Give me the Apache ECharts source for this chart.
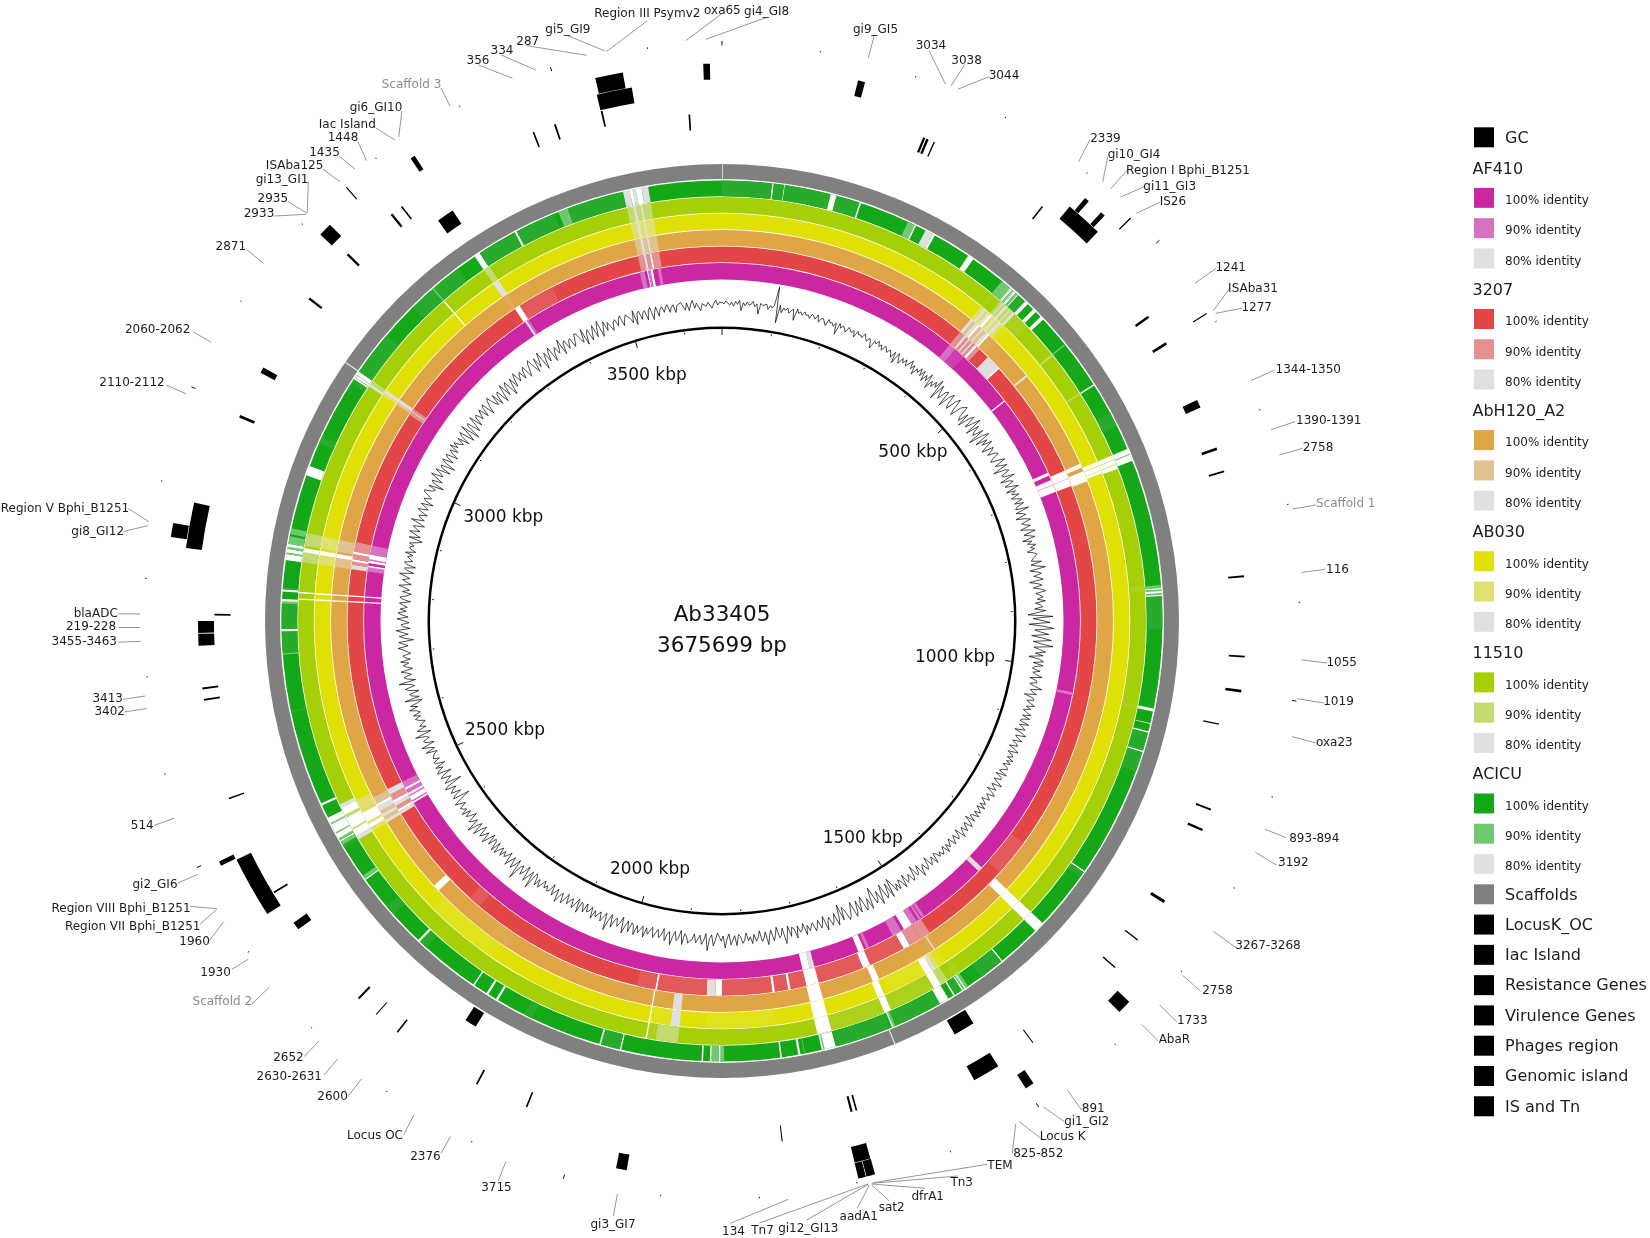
<!DOCTYPE html>
<html><head><meta charset="utf-8">
<style>html,body{margin:0;padding:0;background:#fff}#c{width:1650px;height:1238px}</style>
<script src="https://cdn.jsdelivr.net/npm/echarts@6/dist/echarts.min.js"></script></head>
<body><div id="c"></div>
<script>
const genomeLength = 3675699;
const majorTicksKb = [0,500,1000,1500,2000,2500,3000,3500];
const minorTicksKb = [100,200,300,400,600,700,800,900,1100,1200,1300,1400,1600,1700,1800,1900,2100,2200,2300,2400,2600,2700,2800,2900,3100,3200,3300,3400,3600];
const scaffoldBreaksKb = [[0,1],[1610,1611.6],[3108,3109.6]];

// ring rows: [startKb, endKb, level]  level 0 gap, 1 slightly paler, 2 90%, 3 80%, 4 back to 100%
const ringACICU = [[0,68,1],[67,69,0],[69,83,1],[83,84,0],[84,146,1],[146,154,0],[154,186,1],[186,188,0],[255,265,2],[265,267,0],[281,292,3],[292,295,0],[347,355,0],[403,417,2],[417,419,3],[419,421,0],[421,423,2],[423,425,3],[425,427,0],[427,430,2],[430,432,3],[432,444,1],[444,449,0],[459,464,0],[473,478,0],[521,523,2],[553,555,1],[587,589,0],[630,650,1],[684,701,0],[691,692.5,2],[871,875,2],[875,877,0],[877,879,2],[879,882,0],[882,884,2],[884,886,0],[886,930,1],[1036,1040,0],[1056,1057,0],[1067,1069,0],[1070,1094,1],[1094,1096,0],[1096,1123,1],[1272,1274,0],[1274,1282,1],[1361,1375,0],[1434,1436,0],[1436,1470,1],[1491,1495,2],[1495,1497,0],[1497,1499,2],[1499,1501,0],[1501,1512,1],[1512,1514,0],[1522,1535,0],[1535,1601,1],[1601,1604,2],[1604,1606,0],[1608,1683,1],[1685,1704,0],[1700,1702,2],[1727,1728,2],[1733,1736,0],[1758,1760,0],[1835,1840,2],[1840,1842,0],[1842,1852,2],[1852,1854,0],[1863,1865,0],[1973,1975,0],[1975,2001,1],[2001,2003,0],[2098,2110,1],[2150,2153,0],[2165,2168,0],[2187,2189,0],[2268,2280,1],[2280,2283,0],[2330,2345,1],[2389,2391,0],[2391,2396,2],[2440,2445,1],[2445,2450,2],[2450,2452,0],[2452,2455,2],[2455,2486,0],[2462,2464,2],[2476,2478,2],[2504,2507,0],[2634,2636,1],[2712,2714,2],[2714,2743,1],[2743,2746,0],[2746,2780,1],[2780,2783,2],[2783,2786,0],[2796,2799,0],[2799,2802,1],[2838,2846,0],[2846,2848,2],[2848,2853,0],[2853,2856,2],[2856,2860,0],[2860,2870,2],[2873,2881,2],[2954,2967,0],[3000,3010,1],[3090,3097,1],[3097,3109,0],[3099,3100,2],[3103,3104,2],[3109,3170,1],[3220,3300,1],[3256,3258,2],[3327,3335,0],[3335,3389,1],[3389,3392,0],[3392,3447,1],[3453,3466,2],[3466,3543,1],[3543,3552,3],[3552,3556,0],[3556,3560,3],[3560,3568,0],[3568,3577,3]];
const ring11510 = [[403,408,1],[419,423,2],[423,425,3],[425,428,2],[428,432,3],[432,436,2],[436,438,3],[438,442,2],[442,446,3],[446,470,1],[521,524,2],[587,589,2],[684,704,0],[690,691,2],[697,698,2],[871,878,1],[1036,1040,1],[1361,1375,0],[1490,1500,1],[1510,1516,2],[1516,1521,2],[1521,1532,0],[1532,1598,1],[1598,1608,0],[1608,1685,1],[1685,1705,0],[1899,1942,1],[1899,1930,2],[1942,1944,0],[2265,2267,1],[2440,2446,3],[2446,2456,0],[2456,2458,2],[2458,2475,0],[2475,2479,2],[2479,2490,0],[2490,2495,3],[2786,2788,0],[2795,2797,0],[2838,2852,2],[2852,2858,0],[2861,2879,2],[3100,3104,3],[3104,3109,2],[3256,3258,0],[3327,3336,2],[3543,3552,2],[3552,3556,3],[3556,3562,2],[3562,3565,3],[3565,3577,2]];
const ringAB030 = [[403,408,2],[408,412,3],[412,416,2],[416,420,3],[420,424,0],[424,428,2],[428,432,3],[432,436,2],[436,441,3],[441,445,2],[445,452,1],[521,524,1],[684,690,0],[690,691,2],[691,702,0],[697,698,2],[1361,1375,0],[1500,1510,1],[1510,1516,2],[1516,1522,3],[1522,1532,0],[1532,1590,1],[1598,1608,0],[1685,1705,0],[1760,1860,1],[1899,1912,3],[1912,1942,1],[1942,1944,0],[2190,2300,1],[2440,2446,2],[2446,2452,0],[2452,2455,2],[2455,2470,0],[2470,2473,2],[2473,2490,2],[2786,2788,0],[2795,2797,0],[2838,2852,2],[2852,2858,0],[2861,2879,2],[3100,3104,2],[3104,3109,3],[3256,3258,0],[3327,3336,3],[3543,3552,2],[3552,3556,3],[3556,3562,2],[3562,3565,3],[3565,3577,2]];
const ringAbH120 = [[403,408,3],[408,412,2],[412,417,3],[417,420,0],[420,425,2],[425,428,3],[428,433,2],[433,437,3],[437,440,0],[440,455,1],[521,524,3],[677,683,0],[689,705,0],[1361,1375,0],[1495,1510,1],[1501,1503,3],[1596,1606,0],[1685,1705,0],[1899,1912,3],[1942,1944,0],[2180,2210,1],[2312,2322,0],[2440,2445,3],[2445,2450,2],[2450,2455,3],[2455,2460,2],[2460,2468,3],[2468,2472,0],[2472,2483,2],[2786,2788,0],[2795,2797,0],[2838,2852,2],[2852,2858,0],[2861,2879,2],[3100,3104,2],[3104,3109,3],[3327,3336,1],[3543,3552,2],[3552,3556,3],[3556,3562,2],[3562,3565,3],[3565,3577,2]];
const ring3207 = [[403,412,2],[412,416,3],[416,420,2],[420,423,3],[423,427,2],[427,430,3],[430,434,2],[434,438,0],[438,444,2],[462,464,0],[464,484,3],[484,487,0],[677,703,0],[690,691,2],[1290,1350,1],[1494,1511,2],[1511,1531,2],[1531,1542,0],[1542,1600,1],[1600,1612,0],[1612,1685,1],[1685,1705,0],[1705,1730,1],[1730,1734,0],[1734,1755,1],[1755,1759,0],[1759,1838,1],[1838,1848,0],[1848,1862,3],[1862,1940,1],[1940,1943,0],[1943,1972,1],[2250,2270,1],[2440,2445,3],[2445,2449,0],[2449,2455,2],[2455,2460,3],[2460,2465,0],[2465,2475,2],[2475,2484,3],[2786,2788,0],[2795,2797,0],[2838,2845,3],[2845,2850,2],[2850,2854,0],[2854,2862,2],[2862,2866,0],[2866,2881,2],[3098,3103,2],[3103,3105,3],[3105,3109,2],[3333,3342,0],[3342,3400,1],[3543,3552,2],[3552,3556,3],[3556,3562,2],[3562,3565,0],[3565,3577,2]];
const ringAF410 = [[403,411,2],[411,415,2],[415,434,1],[531,533,0],[669,674,0],[682,703,0],[690,691,2],[1036,1041,2],[1363,1371,3],[1486,1491,2],[1493,1497,2],[1501,1511,2],[1511,1526,0],[1531,1547,2],[1590,1595,2],[1599,1609,0],[1685,1693,3],[1693,1705,0],[2445,2448,0],[2448,2450,2],[2450,2458,0],[2458,2460,2],[2460,2464,0],[2464,2470,2],[2470,2474,0],[2474,2484,2],[2786,2788,0],[2795,2797,0],[2838,2845,2],[2845,2848,0],[2848,2852,4],[2852,2856,0],[2856,2858,2],[2858,2866,0],[2866,2881,2],[3334,3342,2],[3336,3338,0],[3540,3548,2],[3548,3552,4],[3552,3554,0],[3554,3558,2],[3558,3562,0],[3562,3570,4],[3570,3575,2]];

const ringNames = ['ACICU','11510','AB030','AbH120_A2','3207','AF410'];
const ringRows = [ringACICU,ring11510,ringAB030,ringAbH120,ring3207,ringAF410];
const ringRadii = [[424.8,440.5],[408.3,424],[391.8,407.5],[375.3,391],[358.8,374.5],[341.5,358]];
const ringColors = [
 ['#14A818','#28AA2C','#70C870','#E0E0E0'],
 ['#A5D008','#ABD11D','#C2DA70','#E0E0E0'],
 ['#E0E005','#E0E21C','#E0E070','#E0E0E0'],
 ['#E0A545','#E0AA52','#E0C191','#E0E0E0'],
 ['#E24646','#E25A5A','#E29090','#E0E0E0'],
 ['#CC27A3','#D03DAE','#D572C4','#E0E0E0']];

// feature tracks, [startKb,endKb]
const locusBands = [[1511,1538],[2157,2172]];
const iacBands = [[3315,3336]];
const resistanceBands = [[3637,3639],[1038,1039.5],[1680,1682],[1685.5,1688],[2763,2765]];
const virulenceBands = [[230.5,233.2],[234.5,237.2],[243.3,244.8],[384,385.8],[555.2,557.8],[590.7,593.7],[664.2,673.4],[721.4,724.4],[748.4,750.4],[867.9,869.9],[957.8,959.8],[996,999],[1133.4,1135.4],[1157.6,1160.2],[1248,1251.5],[1301,1302.6],[1340.8,1342.4],[1465.6,1466.8],[1513,1544],[1769.9,1771.1],[2060.6,2062.4],[2121.7,2123.7],[2228,2229.8],[2259.1,2260.1],[2285,2287.2],[2388.7,2397.9],[2437.2,2439.2],[2553.8,2555.4],[2667.4,2669.4],[2680.2,2682.2],[2729.2,2742.5],[2743.5,2756.8],[2990,2993.2],[3045.5,3052.1],[3143.5,3146.1],[3208.8,3211.4],[3275.2,3277.8],[3289.9,3291.7],[3459.4,3461.2],[3484.8,3486.8],[3539,3541]];
const phageBands = [[3539,3577.7],[408.4,449.3],[2421.9,2489.3],[2836,2886]];
const islandBands = [[3656,3663],[3541.5,3571],[144.3,151.8],[415,420.1],[437.5,442.6],[1358.7,1373.6],[1491,1500.6],[1680.3,1697.3],[1938.4,1949.7],[2490.8,2495.9],[2845.3,2860.2],[3205,3219.4],[3329,3334.1]];
const isBands = [[463,464.2],[587.5,588.7],[1680,1689],[1689.6,1697.5],[3257.6,3258.8]];
const trackRadii = [[458.5,474.5],[475,491],[491.5,507.5],[508,524],[525,541],[541.5,557.5],[558,574]];

// GC plot: deviation from the ring centre (px-like units), one row per 100 kbp
const gcStepKb = 100/28;
const gcDeviation = [
[1,-1,2,0,-2,1,-3,2,-1,3,-7,1,-2,2,-1,0,3,-2,1,-9,2,0,-1,2,-3,1,-1,2],
[21,-15,3,-4,1,-1,2,-3,0,2,-9,3,-1,1,-2,2,-1,0,-3,2,1,-2,3,-4,0,1,-2,-5],
[2,-1,0,-3,1,-10,2,-2,1,-1,-4,2,0,-2,1,-5,2,-1,0,-2,3,-1,-3,1,-2,-8,1,-1],
[3,-2,1,-4,2,0,-3,1,-1,-5,2,-9,3,-2,-6,1,-3,2,-4,0,5,-3,2,-7,1,-2,4,-3],
[4,-6,2,-3,6,-9,1,-4,3,-2,8,-13,5,-3,-8,2,4,-12,1,6,-5,-9,3,7,-4,-10,2,5],
[7,-4,-8,3,-11,2,6,-7,1,9,-10,4,-3,-6,5,-13,2,8,-9,3,-4,6,-2,-8,4,1,-5,3],
[5,-3,-6,2,8,-4,1,7,-9,3,6,-3,-1,9,-7,2,5,-5,1,8,-6,3,-2,5,-4,1,6,-3],
[6,-2,-4,9,-5,1,4,-7,2,7,-3,0,5,-6,2,8,-4,1,6,-7,2,-3,5,-1,3,-5,1,4],
[5,-1,-3,7,-4,2,10,-6,1,5,-3,2,6,-8,0,4,-5,3,7,-3,1,4,-2,6,-4,1,3,-5],
[6,-3,-12,13,-7,2,10,-11,4,14,-5,1,9,-8,3,12,-6,2,14,-5,1,7,-3,5,-9,2,6,-4],
[6,-2,-4,4,-3,1,7,-5,2,3,-4,1,9,-2,0,5,-7,2,4,-3,1,6,-2,3,-4,0,5,-3],
[5,-2,-4,6,-3,1,4,-6,2,7,-3,0,5,-4,1,3,-5,2,6,-4,1,3,-2,5,-1,4,-3,2],
[4,-1,-3,6,-5,2,3,-4,1,7,-3,0,4,-5,2,6,-2,1,4,-4,0,3,-2,5,-3,1,4,-2],
[5,-1,-3,4,-6,2,6,-3,0,5,-2,1,7,-5,2,4,-3,1,5,-4,0,3,-2,6,-3,1,4,-1],
[3,-2,-4,6,-3,1,4,-7,2,5,-3,0,8,-6,1,3,-9,2,5,-4,1,3,-7,6,-2,-5,4,-3],
[4,-6,-12,7,-9,2,5,-11,-3,8,-7,1,4,-14,-6,7,-5,2,6,-10,-4,5,-8,3,7,-9,-2,4],
[7,-3,-8,5,-12,1,8,-5,2,6,-3,0,9,-6,1,5,-4,2,6,-3,0,4,-2,7,-5,1,3,-4],
[8,-2,-4,5,-6,3,11,-5,2,4,-7,1,6,-5,0,9,-4,2,5,-6,1,4,-3,6,-1,3,-5,2],
[5,-2,-4,7,-3,1,6,-5,0,9,-3,2,4,-6,1,7,-4,0,12,-5,2,6,-3,1,5,-4,2,3],
[6,-1,-3,8,-6,2,5,-4,1,10,-3,0,7,-5,2,5,-3,1,6,-4,0,4,-2,8,-3,1,5,-2],
[8,-1,-3,7,-4,2,10,-6,1,5,-3,0,8,-5,2,13,-4,1,6,-3,0,4,-2,7,-4,1,3,-5],
[5,-2,-4,8,-6,1,6,-3,0,5,-5,2,7,-3,1,9,-4,0,5,-6,2,4,-1,3,-4,1,6,-2],
[6,-3,-5,13,-4,2,9,-6,1,6,-3,0,15,-5,2,7,-4,1,8,-5,0,3,-2,5,-3,1,7,-4],
[7,-2,-4,5,-6,1,8,-3,2,6,-5,0,9,-4,1,11,-3,2,5,-6,0,4,-3,6,-1,2,4,-4],
[-4,6,-2,-13,4,1,-7,3,0,-5,6,2,-14,3,-1,-6,4,1,-9,5,2,-3,4,-7,1,3,-4,2],
[2,-1,-5,6,-4,1,8,-6,2,4,-3,0,10,-7,1,6,-4,2,3,-5,1,4,-2,5,-3,0,7,-2],
[5,-3,-8,9,-6,1,3,-7,2,6,-4,0,11,-6,2,5,-3,1,7,-5,0,4,-2,6,-4,1,3,-5],
[-4,2,7,-3,1,6,-9,0,5,-4,2,8,-6,1,3,-5,0,7,-4,2,6,-2,4,-3,1,5,-6,2],
[5,-2,-6,3,-4,1,7,-5,0,4,-3,2,8,-6,1,4,-7,2,5,-3,0,3,-2,6,-4,1,3,-1],
[4,-3,-8,6,-5,1,7,-3,2,5,-6,0,9,-4,1,3,-5,2,6,-4,0,5,-7,2,4,-3,1,6],
[7,-1,-3,5,-10,2,4,-6,1,8,-4,0,6,-9,2,3,-11,1,5,-6,2,4,-8,0,3,-5,6,-2],
[4,-2,-5,3,-9,1,5,-11,-4,7,-13,2,4,-10,-3,6,-8,1,3,-5,0,4,-7,2,5,-9,-2,3],
[6,-3,-7,4,-9,1,3,-11,-2,6,-8,2,5,-12,-4,4,-7,1,6,-5,0,3,-6,2,5,-8,-3,4],
[7,-2,-9,5,-6,1,8,-12,-3,4,-7,2,6,-10,-1,3,-5,0,8,-9,2,4,-6,1,3,-7,-2,5],
[4,-3,-7,6,-11,0,3,-9,-2,5,-8,1,7,-10,-3,4,-6,2,3,-8,0,2,-5,1,4,-7,-1,3],
[4,-2,-7,5,-10,1,3,-6,0,2,-8,1,4,-9,-2,3,-7,0,2,-4,1,3,-5,0,2,-6,1,2],
[3,-1,-5,2,-6,0,4,-4,1,2,-7,0,1,-3,1,2,-5,0,3,-2,1]
];

const tickLabelTexts = ['500 kbp','1000 kbp','1500 kbp','2000 kbp','2500 kbp','3000 kbp','3500 kbp'];
const tickLabelX = [913,955,862.7,650,505,503.3,646.7];
const tickLabelY = [453,657.7,838.7,870,731,518,375.3];

// [text, grey?, textX, textY, leaderX1, leaderY1, leaderX2, leaderY2]
const outerLabels = [
['Scaffold 3',1,411.5,83,441,88,450,106],['gi6_GI10',0,376,106,402,110.7,398.7,137],['Iac Island',0,347.3,123,376,128,395,140],
['1448',0,343,136,358,141.7,366.5,160.7],['1435',0,324.5,151,339,156,355,169],['ISAba125',0,294.6,164.3,322.8,169,340,181.7],
['gi13_GI1',0,282,178.3,308.3,181.7,307.3,212.7],['2935',0,272.8,197.7,288,201.7,307,213.3],['2933',0,259,212.3,274.5,216,305.8,214.3],
['2871',0,230.8,245.7,246.4,249.3,263.4,263.3],['2060-2062',0,157.6,328.3,192.9,331.7,211.2,342.3],['2110-2112',0,132,381.7,166,385,186,393.7],
['356',0,478,59.3,478.6,65,512.5,78.3],['334',0,502,49.3,501.3,55,535.7,70],['287',0,527.7,40,526.8,45.7,586.6,55.3],
['gi5_GI9',0,567.9,28.3,567.9,35.7,605,51],['Region III Psymv2',0,647.3,12.7,647.3,20.7,606.3,51.7],['oxa65',0,722.4,9,721.5,14,685.8,40.7],
['gi4_GI8',0,766.6,10,767,17.3,705.9,39.3],['gi9_GI5',0,875.5,28.3,874.2,35.7,868.4,57.7],['3034',0,930.9,44.7,929,50.7,945.6,84.3],
['3038',0,966.6,59,964.4,65,951,86],['3044',0,1004,74.7,989,76.7,957.7,89.3],['2339',0,1105.4,137.3,1089.8,140,1078.7,161.7],
['gi10_GI4',0,1134,153.3,1107.7,156.7,1102.8,181.7],['Region I Bphi_B1251',0,1188,169.7,1127.3,170,1110.8,188.7],['gi11_GI3',0,1169.7,185,1144.3,186.7,1120.6,197],
['IS26',0,1172.9,200.3,1160,202.3,1136.3,213.3],['1241',0,1230.7,266.7,1216,268.3,1195,283.3],['ISAba31',0,1253,287.7,1229,289.3,1213.3,310.7],
['1277',0,1256.7,306.3,1241.7,308.3,1215.7,313.3],['1344-1350',0,1308.3,368.3,1274.3,370,1251,380.7],['1390-1391',0,1328.7,419.3,1295,421.7,1271,429.7],
['2758',0,1318,446,1302.7,448.3,1279.3,455],['Scaffold 1',1,1345.7,502.7,1316,505,1292.7,509],['116',0,1337.5,568.2,1324.8,569.3,1301.7,572.5],
['1055',0,1341.7,660.8,1327,663,1301.7,659.8],['1019',0,1338.5,699.8,1323.8,703,1297.5,698.7],['oxa23',0,1334.3,740.8,1315.4,742.9,1292.2,736.6],
['893-894',0,1314.3,837.6,1286,837.6,1264.9,829.2],['3192',0,1293.3,860.8,1276.4,865,1255.4,852.4],['3267-3268',0,1268,943.9,1236.5,948,1213.3,931.3],
['2758',0,1217.5,989,1200.7,991.3,1182.8,975.5],['1733',0,1192.3,1019.7,1176.5,1021.8,1159.6,1004.9],['AbaR',0,1174.4,1038.6,1158.3,1041,1141.7,1024.3],
['891',0,1093.3,1107.3,1081.7,1110,1067.3,1090],['gi1_GI2',0,1086.7,1120.7,1064.3,1121.7,1043.3,1106.7],['Locus K',0,1062.7,1135.7,1040.7,1138.3,1019.3,1121.7],
['825-852',0,1038.3,1152,1012.3,1153.3,1015.7,1124],['TEM',0,1000,1164,987.3,1164.3,873.3,1182.7],['Tn3',0,961.7,1181.7,958.3,1176,871.7,1183.3],
['dfrA1',0,927.7,1195.3,925,1188.3,871.7,1184],['sat2',0,891.7,1206.7,889,1200.7,871.7,1185],['aadA1',0,858.7,1215.7,857.3,1208.3,869.3,1185],
['gi12_GI13',0,808.3,1227,806.7,1220,868.3,1184.3],['Tn7',0,762.5,1229,759.4,1223,868,1184],['134',0,733.5,1230,730.4,1223.3,788.4,1199.3],
['gi3_GI7',0,613,1223.3,613.4,1216,617.4,1194],['3715',0,496.4,1186.7,498.2,1181,505.8,1161.7],['2376',0,425.4,1155.7,441,1153.3,450.4,1136.7],
['Locus OC',0,375,1134,403.6,1135,413.8,1115],['2600',0,332.6,1095.7,347.8,1096.7,361.6,1078.7],['2630-2631',0,289.3,1075,324.1,1075,337.5,1059],
['2652',0,288.4,1056.7,304,1056.7,318.8,1041.3],['Scaffold 2',1,222.3,1000.7,251.8,1004,269.2,987.3],['1930',0,215.6,971.7,231.7,969.3,248.2,959.3],
['1960',0,194.6,940,208.9,941,223.7,921.7],['Region VII Bphi_B1251',0,132.7,925,200,924.3,216.7,909.3],['Region VIII Bphi_B1251',0,121,906.8,190,906.4,216.7,908.6],
['gi2_GI6',0,155,883.6,177.7,883.2,197.7,874.3],['514',0,142.3,824.6,154,825.4,174.3,818.2],['3402',0,109.7,710.4,125,711.8,146.7,708.6],
['3413',0,107.7,697.5,123.3,699.3,145,696],['3455-3463',0,84.3,640.7,118.3,642.1,140.7,641.4],['219-228',0,91,625.7,118.3,627.5,140,627.5],
['blaADC',0,95.7,612.1,118.3,613.9,140,613.9],['gi8_GI12',0,97.7,530.4,124,531.4,147.7,525.7],['Region V Bphi_B1251',0,65,507.5,128.3,508.6,149,521.8]
];

// legend: [text, swatch colour or '' for a heading]
const legendRows = [['GC','#000000'],['AF410',''],['100% identity','#CC27A3'],['90% identity','#D572C4'],['80% identity','#E0E0E0'],
['3207',''],['100% identity','#E24646'],['90% identity','#E29090'],['80% identity','#E0E0E0'],
['AbH120_A2',''],['100% identity','#E0A545'],['90% identity','#E0C191'],['80% identity','#E0E0E0'],
['AB030',''],['100% identity','#E0E005'],['90% identity','#E0E070'],['80% identity','#E0E0E0'],
['11510',''],['100% identity','#A5D008'],['90% identity','#C2DA70'],['80% identity','#E0E0E0'],
['ACICU',''],['100% identity','#14A818'],['90% identity','#70C870'],['80% identity','#E0E0E0'],
['Scaffolds','#808080'],['LocusK_OC','#000000'],['Iac Island','#000000'],['Resistance Genes','#000000'],['Virulence Genes','#000000'],['Phages region','#000000'],['Genomic island','#000000'],['IS and Tn','#000000']];

const FONT = '"DejaVu Sans", sans-serif';
const KB = 1000;

function sectorItem(params, api, start, end, r0, r1, fill){
  const c = params.coordSys;
  const a = api.coord([r1, start]), b = api.coord([r1, end]);
  const p0 = api.coord([r0, start]);
  let a0 = Math.atan2(a[1]-c.cy, a[0]-c.cx), a1 = Math.atan2(b[1]-c.cy, b[0]-c.cx);
  while (a1 <= a0 + 1e-9) a1 += Math.PI*2;
  return {type:'sector', shape:{cx:c.cx, cy:c.cy,
     r: Math.hypot(a[0]-c.cx,a[1]-c.cy), r0: Math.hypot(p0[0]-c.cx,p0[1]-c.cy),
     startAngle:a0, endAngle:a1, clockwise:true}, style:{fill:fill}, silent:true};
}
function bandSeries(name, rows, r0, r1, color){
  return {name:name, type:'custom', coordinateSystem:'polar', silent:true, animation:false,
    data: rows.map(function(d){return [d[0]*KB, d[1]*KB];}),
    renderItem:function(params, api){ return sectorItem(params, api, api.value(0), api.value(1), r0, r1, color); }};
}
function ringSeries(i){
  const cols = ringColors[i], rr = ringRadii[i];
  const fills = ['#FFFFFF',cols[1],cols[2],cols[3],cols[0]];
  const rows = ringRows[i];
  return [bandSeries(ringNames[i]+' base',[[0,genomeLength/KB]],rr[0],rr[1],cols[0]),
   {name:ringNames[i], type:'custom', coordinateSystem:'polar', silent:true, animation:false,
    data: rows.map(function(d){return [d[0]*KB,d[1]*KB,d[2]];}),
    renderItem:function(params, api){ return sectorItem(params, api, api.value(0), api.value(1), rr[0], rr[1], fills[api.value(2)]); }}];
}
function tickSeries(name, ticksKb, r0, r1, w){
  return {name:name, type:'custom', coordinateSystem:'polar', silent:true, animation:false,
    data: ticksKb.map(function(k){return [k*KB];}),
    renderItem:function(params, api){
      const p=api.coord([r0,api.value(0)]), q=api.coord([r1,api.value(0)]);
      return {type:'line', shape:{x1:p[0],y1:p[1],x2:q[0],y2:q[1]}, style:{stroke:'#111',lineWidth:w}, silent:true};
    }};
}
const gcData = [];
gcDeviation.forEach(function(row, i){ row.forEach(function(v, j){
  gcData.push([318 + v, (i*100 + j*gcStepKb)*KB]);
});});
gcData.push([318, genomeLength]);

const series = [];
series.push(bandSeries('Scaffolds',[[0,genomeLength/KB]],442,457,'#808080'));
series.push(bandSeries('Scaffold breaks',scaffoldBreaksKb,442,457,'#E6E6E6'));
for (let i=0;i<6;i++) series.push.apply(series, ringSeries(i));
series.push({name:'GC', type:'line', coordinateSystem:'polar', data:gcData, showSymbol:false, symbol:'none', silent:true, animation:false,
   lineStyle:{color:'#000',width:0.7}});
series.push(bandSeries('Scale circle',[[0,genomeLength/KB]],292,294.5,'#000'));
series.push(tickSeries('Inner major',majorTicksKb,286,292,1));
series.push(tickSeries('Inner minor',minorTicksKb,289,290.6,1));
series.push(tickSeries('Outer major',majorTicksKb,575.5,580,1));
series.push(tickSeries('Outer minor',minorTicksKb,577,578.4,1));
[locusBands,iacBands,resistanceBands,virulenceBands,phageBands,islandBands,isBands].forEach(function(b,i){
  series.push(bandSeries(['LocusK_OC','Iac Island','Resistance Genes','Virulence Genes','Phages region','Genomic island','IS and Tn'][i], b, trackRadii[i][0], trackRadii[i][1], '#000'));
});
// pixel-grid series: text and legend
series.push({name:'leaders', type:'custom', coordinateSystem:'cartesian2d', silent:true, animation:false, data:outerLabels.map(function(l){return [l[4],l[5],l[6],l[7]];}),
  renderItem:function(p,api){const a=api.coord([api.value(0),api.value(1)]),b=api.coord([api.value(2),api.value(3)]);
    return {type:'line',shape:{x1:a[0],y1:a[1],x2:b[0],y2:b[1]},style:{stroke:'#8a8a8a',lineWidth:0.9},silent:true};}});
function textSeries(name, xs, ys, texts, fontSize, fillFn, align){
  return {name:name, type:'custom', coordinateSystem:'cartesian2d', silent:true, animation:false, data:xs.map(function(x,i){return [x,ys[i]];}),
    renderItem:function(p,api){const a=api.coord([api.value(0),api.value(1)]);
      return {type:'text',x:a[0],y:a[1],silent:true,style:{text:texts[p.dataIndex],fill:fillFn(p.dataIndex),font:fontSize+'px '+FONT,align:align||'center',verticalAlign:'middle'}};}};
}
series.push(textSeries('outer labels',outerLabels.map(function(l){return l[2];}),outerLabels.map(function(l){return l[3]+1.6;}),outerLabels.map(function(l){return l[0];}),12,function(i){return outerLabels[i][1]?'#8c8c8c':'#1c1c1c';}));
series.push(textSeries('tick labels',tickLabelX,tickLabelY,tickLabelTexts,17,function(){return '#111';}));
series.push(textSeries('title',[722,722],[615.5,646],['Ab33405','3675699 bp'],21.5,function(){return '#111';}));
const legendTop=137.3, legendStep=30.28;
series.push({name:'legend swatches', type:'custom', coordinateSystem:'cartesian2d', silent:true, animation:false,
  data:legendRows.map(function(r,i){return [1474,legendTop+i*legendStep];}),
  renderItem:function(p,api){const c=legendRows[p.dataIndex][1]; if(!c) return null; const a=api.coord([api.value(0),api.value(1)]);
    return {type:'rect',shape:{x:a[0],y:a[1]-10,width:20,height:20},style:{fill:c},silent:true};}});
series.push({name:'legend text', type:'custom', coordinateSystem:'cartesian2d', silent:true, animation:false,
  data:legendRows.map(function(r,i){return [r[1]?1505:1472.5,legendTop+i*legendStep];}),
  renderItem:function(p,api){const r=legendRows[p.dataIndex]; const a=api.coord([api.value(0),api.value(1)]);
    const small=/identity/.test(r[0]);
    const dy = small?3.2:(r[1]?1.2:2);
    return {type:'text',x:a[0],y:a[1]+dy,silent:true,style:{text:r[0],fill:'#1c1c1c',font:(small?12:16)+'px '+FONT,align:'left',verticalAlign:'middle'}};}});

const chart = echarts.init(document.getElementById('c'), null, {renderer:'canvas', width:1650, height:1238});
chart.setOption({
  backgroundColor:'#fff', animation:false,
  polar:{center:[722,621], radius:600},
  radiusAxis:{type:'value',min:0,max:600,show:false},
  angleAxis:{type:'value',min:0,max:genomeLength,startAngle:90,clockwise:true,show:false},
  grid:{left:0,right:0,top:0,bottom:0},
  xAxis:{type:'value',min:0,max:1650,show:false},
  yAxis:{type:'value',min:0,max:1238,inverse:true,show:false},
  series:series
});
</script></body></html>
